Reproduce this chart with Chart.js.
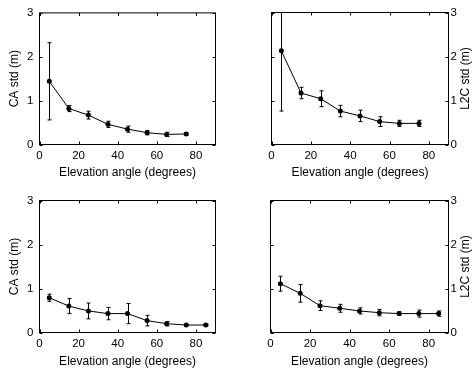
<!DOCTYPE html>
<html>
<head>
<meta charset="utf-8">
<script src="https://cdn.jsdelivr.net/npm/chart.js@4.4.0/dist/chart.umd.min.js"></script>
<style>
  html, body { margin: 0; padding: 0; background: #fff; }
  body { width: 474px; height: 369px; position: relative; overflow: hidden; }
  canvas { position: absolute; }
</style>
</head>
<body>
<canvas id="c1" width="237" height="185" style="left:0;top:0"></canvas>
<canvas id="c2" width="237" height="185" style="left:237px;top:0"></canvas>
<canvas id="c3" width="237" height="184" style="left:0;top:185px"></canvas>
<canvas id="c4" width="237" height="184" style="left:237px;top:185px"></canvas>
<script>
// elevation bins (degrees)
const elevTop = [5, 15, 25, 35, 45, 55, 65, 75];
const elevBottom = [5, 15, 25, 35, 45, 55, 65, 75, 85];
const xTicks = [0, 20, 40, 60, 80];
const yTicks = [0, 1, 2, 3];

// std values and error half-widths (m)
const caStdTop = [1.44, 0.82, 0.67, 0.46, 0.35, 0.27, 0.23, 0.24];
const caErrTop = [0.88, 0.07, 0.09, 0.07, 0.07, 0.05, 0.05, 0.03];
const l2cStdTop = [2.13, 1.17, 1.04, 0.76, 0.65, 0.52, 0.48, 0.48];
const l2cErrTop = [1.37, 0.13, 0.18, 0.13, 0.13, 0.11, 0.07, 0.07];
const caStdBottom = [0.79, 0.60, 0.49, 0.43, 0.43, 0.27, 0.20, 0.17, 0.17];
const caErrBottom = [0.08, 0.17, 0.18, 0.14, 0.23, 0.12, 0.05, 0.02, 0.02];
const l2cStdBottom = [1.11, 0.89, 0.61, 0.55, 0.49, 0.45, 0.43, 0.43, 0.43];
const l2cErrBottom = [0.17, 0.20, 0.11, 0.09, 0.07, 0.07, 0.04, 0.08, 0.06];

const xTitle = 'Elevation angle (degrees)';
const FONT = "'Liberation Sans', Arial, Helvetica, sans-serif";

// box, inward ticks on all sides, error bars, right-hand title
const framePlugin = {
    id: 'frame',
    beforeDatasetsDraw(chart, args, opts) {
        const { ctx, chartArea: a, scales: { x, y } } = chart;
        const pts = chart.data.datasets[0].data;
        ctx.save();
        ctx.beginPath();
        ctx.rect(a.left, a.top, a.width, a.height);
        ctx.clip();
        ctx.strokeStyle = '#000';
        ctx.lineWidth = 1;
        pts.forEach((p, i) => {
            const e = opts.errors[i];
            const px = Math.round(x.getPixelForValue(p.x)) + 0.5;
            const y1 = y.getPixelForValue(p.y + e);
            const y2 = y.getPixelForValue(p.y - e);
            ctx.beginPath();
            ctx.moveTo(px, y1); ctx.lineTo(px, y2);
            ctx.moveTo(px - 2, y1); ctx.lineTo(px + 2, y1);
            ctx.moveTo(px - 2, y2); ctx.lineTo(px + 2, y2);
            ctx.stroke();
        });
        ctx.restore();
    },
    afterDraw(chart, args, opts) {
        const { ctx, chartArea: a, scales: { x, y } } = chart;
        ctx.save();
        ctx.strokeStyle = '#000';
        ctx.lineWidth = 1;
        ctx.strokeRect(a.left, a.top, a.width, a.height);
        ctx.beginPath();
        xTicks.forEach(t => {
            const px = Math.round(x.getPixelForValue(t)) + 0.5;
            ctx.moveTo(px, a.bottom); ctx.lineTo(px, a.bottom - 3);
            ctx.moveTo(px, a.top); ctx.lineTo(px, a.top + 3);
        });
        yTicks.forEach(t => {
            const py = Math.round(y.getPixelForValue(t)) + 0.5;
            ctx.moveTo(a.left, py); ctx.lineTo(a.left + 3, py);
            ctx.moveTo(a.right, py); ctx.lineTo(a.right - 3, py);
        });
        ctx.stroke();
        if (opts.rightTitle) {
            // reads bottom-to-top like the left one
            ctx.translate(chart.width - opts.rightTitleInset, (a.top + a.bottom) / 2);
            ctx.rotate(-Math.PI / 2);
            ctx.fillStyle = '#000';
            ctx.font = '12px ' + FONT;
            ctx.textAlign = 'center';
            ctx.textBaseline = 'middle';
            ctx.fillText(opts.rightTitle, 0, 0);
        }
        ctx.restore();
    }
};

function makePanel(id, elev, vals, errs, yTitle, side, box) {
    const canvas = document.getElementById(id);
    const onRight = side === 'right';
    return new Chart(canvas, {
        type: 'line',
        data: {
            datasets: [{
                data: elev.map((e, i) => ({ x: e, y: vals[i] })),
                borderColor: '#000',
                borderWidth: 1,
                pointRadius: 2.5,
                pointBackgroundColor: '#000',
                pointBorderWidth: 0,
                tension: 0
            }]
        },
        options: {
            responsive: false,
            animation: false,
            events: [],
            layout: { padding: box.padding },
            scales: {
                x: {
                    type: 'linear',
                    min: 0, max: 90,
                    afterBuildTicks: s => { s.ticks = xTicks.map(v => ({ value: v })); },
                    afterFit: s => { s.height = box.xAxisH; },
                    grid: { display: false, drawTicks: false },
                    border: { display: false },
                    ticks: { color: '#000', padding: 4, font: { family: FONT, size: 11.5 } },
                    title: {
                        display: true, text: xTitle, color: '#000',
                        font: { family: FONT, size: 12 },
                        padding: { top: 0, bottom: box.xTitlePad }
                    }
                },
                y: {
                    position: side,
                    min: 0, max: 3,
                    afterBuildTicks: s => { s.ticks = yTicks.map(v => ({ value: v })); },
                    afterFit: s => { s.width = box.yAxisW; },
                    grid: { display: false, drawTicks: false },
                    border: { display: false },
                    ticks: { color: '#000', padding: box.yTickPad, font: { family: FONT, size: 11.5 } },
                    title: {
                        display: !onRight, text: yTitle, color: '#000',
                        font: { family: FONT, size: 12 },
                        padding: { top: box.yTitlePad, bottom: 0 }
                    }
                }
            },
            plugins: {
                legend: { display: false },
                tooltip: { enabled: false },
                frame: {
                    errors: errs,
                    rightTitle: onRight ? yTitle : null,
                    rightTitleInset: 8
                }
            }
        },
        plugins: [framePlugin]
    });
}

makePanel('c1', elevTop, caStdTop, caErrTop, 'CA std (m)', 'left', {
    padding: { left: 0, right: 21.5, top: 12.5, bottom: 0 },
    yAxisW: 39.5, xAxisH: 40.5, yTickPad: 6, yTitlePad: 7, xTitlePad: 5.5
});
makePanel('c2', elevTop, l2cStdTop, l2cErrTop, 'L2C std (m)', 'right', {
    padding: { left: 34.5, right: 0, top: 12.5, bottom: 0 },
    yAxisW: 25.5, xAxisH: 40.5, yTickPad: 2, yTitlePad: 1, xTitlePad: 5.5
});
makePanel('c3', elevBottom, caStdBottom, caErrBottom, 'CA std (m)', 'left', {
    padding: { left: 0, right: 21.5, top: 15.5, bottom: 0 },
    yAxisW: 39.5, xAxisH: 36.5, yTickPad: 6, yTitlePad: 7, xTitlePad: 0.5
});
makePanel('c4', elevBottom, l2cStdBottom, l2cErrBottom, 'L2C std (m)', 'right', {
    padding: { left: 33.5, right: 0, top: 15.5, bottom: 0 },
    yAxisW: 25.5, xAxisH: 36.5, yTickPad: 2, yTitlePad: 1, xTitlePad: 0.5
});
</script>
</body>
</html>
